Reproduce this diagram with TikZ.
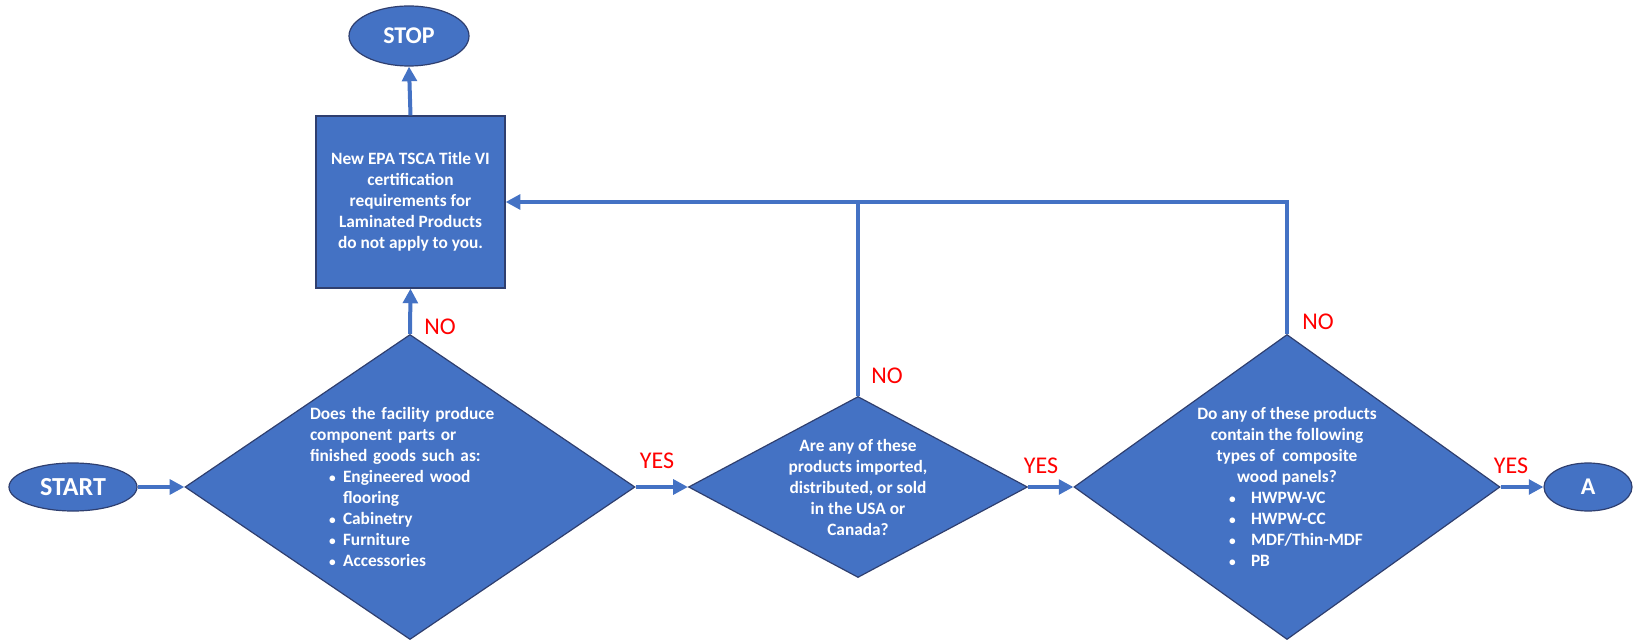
\documentclass[tikz,border=0pt]{standalone}
\usepackage{fontspec}
\setmainfont{Carlito}
\usetikzlibrary{shapes.geometric,arrows.meta,calc}
\definecolor{fillblue}{HTML}{4472C4}
\definecolor{edgeblue}{HTML}{2F3F6F}
\definecolor{linkblue}{HTML}{4472C4}
\definecolor{lblred}{HTML}{FF0000}
\newcommand{\smbul}{{\fontsize{10}{10}\selectfont•}}
\begin{document}
\begin{tikzpicture}[x=0.75pt,y=-0.75pt,
  shapebase/.style={fill=fillblue, draw=edgeblue, line width=0.9pt, text=white,
    font=\bfseries\fontsize{13}{15.75}\selectfont, inner sep=0pt},
  term/.style={shapebase, ellipse, font=\bfseries\fontsize{18}{21}\selectfont},
  decision/.style={shapebase, diamond},
  procbox/.style={shapebase, rectangle},
  link/.style={draw=linkblue, line width=3pt},
  arrowlink/.style={link, -{Triangle[length=11pt,width=11pt]}},
  answer/.style={text=lblred, font=\fontsize{18}{21}\selectfont, inner sep=0pt}
]
\useasboundingbox (0,0) rectangle (1633,641);

% nodes
\node[term, minimum width=90pt, minimum height=45pt] (stop) at (409,36) {STOP};
\node[procbox, minimum width=141.75pt, minimum height=129pt, align=center] (box) at (410.5,202)
  {New EPA TSCA Title VI\\certification\\requirements for\\Laminated Products\\do not apply to you.};
\node[term, minimum width=96pt, minimum height=36pt, font=\bfseries\fontsize{19.5}{21}\selectfont] (start) at (73,487) {START};
\node[decision, shape aspect=1.475, minimum width=337.5pt, minimum height=228.75pt, text width=150pt, align=left] (d1) at (410,487)
  {Does the facility produce\\
   component parts or\\
   finished goods such as:\\
   \hspace*{14.25pt}\makebox[10.5pt][l]{\smbul}Engineered wood\\
   \hspace*{24.75pt}flooring\\
   \hspace*{14.25pt}\makebox[10.5pt][l]{\smbul}Cabinetry\\
   \hspace*{14.25pt}\makebox[10.5pt][l]{\smbul}Furniture\\
   \hspace*{14.25pt}\makebox[10.5pt][l]{\smbul}Accessories};
\node[decision, shape aspect=1.873, minimum width=254.25pt, minimum height=135.75pt, align=center] (d2) at (858,487)
  {Are any of these\\products imported,\\distributed, or sold\\in the USA or\\Canada?};
\node[decision, shape aspect=1.397, minimum width=319.5pt, minimum height=228.75pt, align=center] (d3) at (1287,487)
  {Do any of these products\\
   contain the following\\
   types of\ \ composite\\
   wood panels?\\
   \makebox[87pt][l]{\makebox[16.5pt][l]{\smbul}HWPW-VC}\\
   \makebox[87pt][l]{\makebox[16.5pt][l]{\smbul}HWPW-CC}\\
   \makebox[87pt][l]{\makebox[16.5pt][l]{\smbul}MDF/Thin-MDF}\\
   \makebox[87pt][l]{\makebox[16.5pt][l]{\smbul}PB}};
\node[term, minimum width=66pt, minimum height=36pt] (a) at (1588,487) {A};

% connectors
\draw[arrowlink] (start.east) -- (d1.west);
\draw[arrowlink] (d1.north) -- (box.south);
\draw[arrowlink] (box.north) -- (stop.south);
\draw[arrowlink] (d1.east) -- (d2.west);
\draw[arrowlink] (d2.east) -- (d3.west);
\draw[arrowlink] (d3.east) -- (a.west);
\draw[link] (d2.north) -- (d2.north |- box.east);
\draw[arrowlink] (d3.north) -- (d3.north |- box.east) -- (box.east);

% answer labels
\node[answer, anchor=west] (no1) at (424,327) {NO};
\node[answer] (yes1) at (657,461) {YES};
\node[answer] (no2) at (887,376) {NO};
\node[answer] (yes2) at (1041,466) {YES};
\node[answer] (no3) at (1318,322) {NO};
\node[answer] (yes3) at (1511,466) {YES};
\end{tikzpicture}
\end{document}
